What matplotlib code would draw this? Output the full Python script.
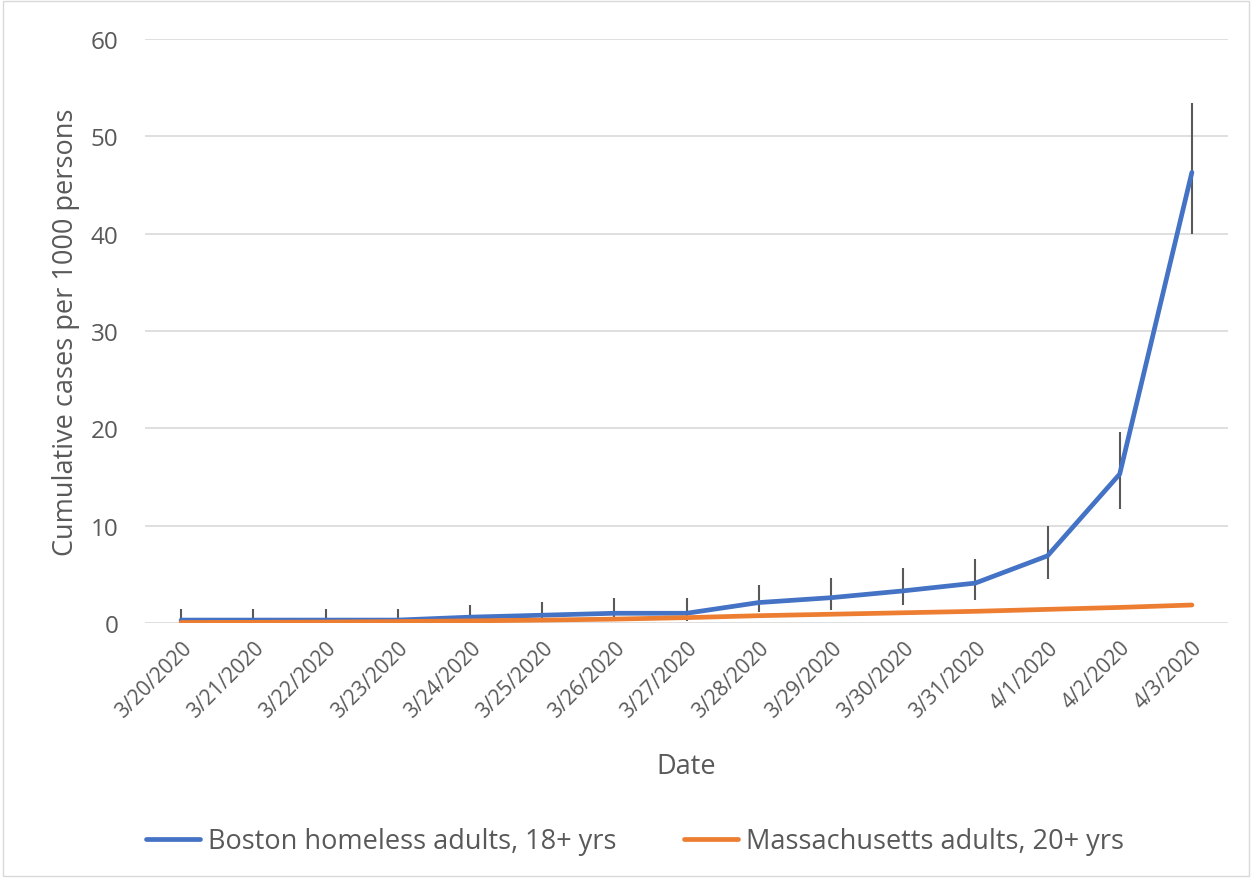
import numpy as np
import matplotlib.pyplot as plt
from matplotlib.patches import Rectangle

# data
dates = ['3/20/2020', '3/21/2020', '3/22/2020', '3/23/2020', '3/24/2020', '3/25/2020',
         '3/26/2020', '3/27/2020', '3/28/2020', '3/29/2020', '3/30/2020', '3/31/2020',
         '4/1/2020', '4/2/2020', '4/3/2020']
boston = [0.3, 0.3, 0.3, 0.3, 0.6, 0.8, 1.0, 1.0, 2.1, 2.6, 3.3, 4.1, 6.9, 15.3, 46.3]
boston_hi = [1.4, 1.4, 1.4, 1.4, 1.85, 2.2, 2.6, 2.6, 3.9, 4.6, 5.6, 6.6, 10.0, 19.6, 53.4]
boston_lo = [0.0, 0.0, 0.0, 0.0, 0.0, 0.1, 0.2, 0.2, 1.1, 1.3, 1.8, 2.4, 4.5, 11.7, 40.0]
mass = [0.05, 0.07, 0.1, 0.15, 0.22, 0.3, 0.4, 0.55, 0.75, 0.9, 1.05, 1.2, 1.4, 1.6, 1.85]

plt.rcParams['font.family'] = ['Open Sans', 'DejaVu Sans']
txt = '#595959'

fig = plt.figure(figsize=(12.52, 8.79), dpi=100)
ax = fig.add_axes([145/1252, 1-624/879, (1228-145)/1252, (624-40)/879])

x = np.arange(len(dates))
b = np.array(boston)
yerr = [b - np.array(boston_lo), np.array(boston_hi) - b]
ax.errorbar(x, boston, yerr=yerr, fmt='none', ecolor='#595959', elinewidth=1.5, capsize=0, zorder=2)
ax.plot(x, boston, color='#4472C4', lw=3.4, solid_capstyle='round', solid_joinstyle='round',
        label='Boston homeless adults, 18+ yrs', zorder=3)
ax.plot(x, mass, color='#ED7D31', lw=3.4, solid_capstyle='round',
        label='Massachusetts adults, 20+ yrs', zorder=4)

ax.set_xlim(-0.5, len(dates) - 0.5)
ax.set_ylim(0, 60)
ax.set_yticks(range(0, 61, 10))
ax.yaxis.grid(True, color='#D9D9D9', lw=1.2)
ax.set_axisbelow(True)
for s in ax.spines.values():
    s.set_visible(False)
ax.tick_params(length=0, colors=txt, labelsize=17.5)
ax.tick_params(axis='y', pad=19)
ax.set_xticks(x)
ax.set_xticklabels(dates, rotation=45, ha='right', rotation_mode='anchor', fontsize=15)
ax.tick_params(axis='x', pad=10)
ax.set_ylabel('Cumulative cases per 1000 persons', fontsize=19.5, color=txt)
ax.yaxis.set_label_coords(-0.060, 0.5)
ax.set_xlabel('Date', fontsize=19.5, color=txt)
ax.xaxis.set_label_coords(0.5, -0.221)

leg = fig.legend(loc='center', bbox_to_anchor=(635/1252, 1-842/879), ncol=2, frameon=False,
                 fontsize=19.5, labelcolor=txt, handlelength=2.0, handletextpad=0.3,
                 columnspacing=2.5)

fig.patches.append(Rectangle((0.002, 0.002), 0.996, 0.996, transform=fig.transFigure,
                             fill=False, edgecolor='#D9D9D9', lw=1))

fig.savefig('out.png', dpi=100, facecolor='white')
